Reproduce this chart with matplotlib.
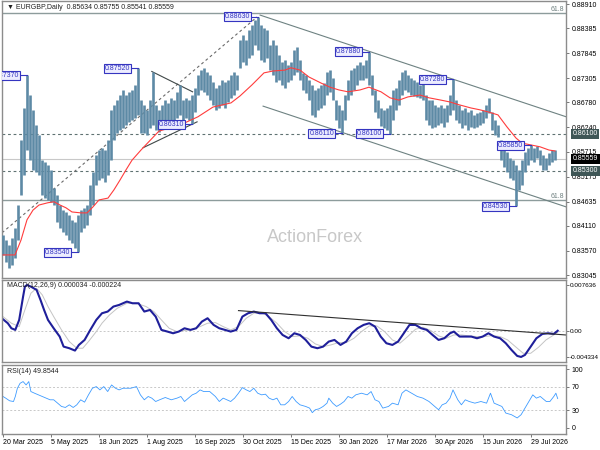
import matplotlib
matplotlib.use("Agg")
import numpy as np
import matplotlib.pyplot as plt
import matplotlib.transforms as mtrans

plt.rcParams['font.family'] = ['Liberation Sans', 'DejaVu Sans']

# --- price bars (each bar = 2 sessions) ---
bar_high = [
    0.8391, 0.8380, 0.8370, 0.8385, 0.8406, 0.8456, 0.8597, 0.8666, 0.8737, 0.8694,
    0.8662, 0.8629, 0.8608, 0.8553, 0.8549, 0.8543, 0.8532, 0.8493, 0.8478, 0.8456,
    0.8445, 0.8441, 0.8434, 0.8424, 0.8419, 0.8434, 0.8445, 0.8450, 0.8456, 0.8499,
    0.8527, 0.8564, 0.8575, 0.8580, 0.8575, 0.8597, 0.8662, 0.8673, 0.8683, 0.8694,
    0.8705, 0.8694, 0.8701, 0.8705, 0.8716, 0.8752, 0.8683, 0.8673, 0.8662, 0.8683,
    0.8744, 0.8673, 0.8662, 0.8673, 0.8683, 0.8677, 0.8688, 0.8683, 0.8701, 0.8716,
    0.8683, 0.8688, 0.8683, 0.8694, 0.8709, 0.8737, 0.8748, 0.8753, 0.8744, 0.8737,
    0.8722, 0.8709, 0.8716, 0.8727, 0.8722, 0.8727, 0.8737, 0.8744, 0.8737, 0.8813,
    0.8824, 0.8813, 0.8835, 0.8846, 0.8856, 0.8863, 0.8846, 0.8839, 0.8835, 0.8802,
    0.8813, 0.8802, 0.8781, 0.8766, 0.8770, 0.8759, 0.8766, 0.8792, 0.8798, 0.8770,
    0.8742, 0.8737, 0.8727, 0.8716, 0.8705, 0.8709, 0.8716, 0.8720, 0.8744, 0.8748,
    0.8731, 0.8683, 0.8673, 0.8662, 0.8694, 0.8727, 0.8748, 0.8753, 0.8759, 0.8766,
    0.8759, 0.8770, 0.8788, 0.8737, 0.8705, 0.8683, 0.8666, 0.8662, 0.8666, 0.8673,
    0.8705, 0.8709, 0.8727, 0.8744, 0.8748, 0.8737, 0.8731, 0.8727, 0.8722, 0.8716,
    0.8718, 0.8694, 0.8683, 0.8683, 0.8673, 0.8668, 0.8673, 0.8666, 0.8673, 0.8694,
    0.8728, 0.8683, 0.8673, 0.8662, 0.8666, 0.8657, 0.8662, 0.8651, 0.8655, 0.8657,
    0.8662, 0.8673, 0.8688, 0.8657, 0.8640, 0.8629, 0.8597, 0.8586, 0.8571, 0.8558,
    0.8553, 0.8543, 0.8532, 0.8553, 0.8571, 0.8580, 0.8585, 0.8580, 0.8584, 0.8575,
    0.8564, 0.8558, 0.8569, 0.8575, 0.8576]
bar_low = [
    0.8348, 0.8333, 0.8320, 0.8326, 0.8341, 0.8380, 0.8478, 0.8521, 0.8575, 0.8553,
    0.8532, 0.8527, 0.8521, 0.8478, 0.8471, 0.8467, 0.8463, 0.8456, 0.8419, 0.8406,
    0.8398, 0.8391, 0.8380, 0.8374, 0.8363, 0.8354, 0.8398, 0.8406, 0.8413, 0.8434,
    0.8456, 0.8499, 0.8510, 0.8515, 0.8506, 0.8521, 0.8553, 0.8597, 0.8612, 0.8618,
    0.8623, 0.8629, 0.8636, 0.8640, 0.8644, 0.8651, 0.8612, 0.8612, 0.8608, 0.8623,
    0.8629, 0.8618, 0.8614, 0.8623, 0.8629, 0.8629, 0.8636, 0.8640, 0.8644, 0.8651,
    0.8640, 0.8644, 0.8640, 0.8631, 0.8657, 0.8694, 0.8705, 0.8701, 0.8694, 0.8683,
    0.8673, 0.8662, 0.8666, 0.8673, 0.8666, 0.8679, 0.8688, 0.8694, 0.8705, 0.8753,
    0.8766, 0.8759, 0.8774, 0.8781, 0.8802, 0.8792, 0.8770, 0.8766, 0.8774, 0.8748,
    0.8737, 0.8722, 0.8727, 0.8716, 0.8709, 0.8722, 0.8727, 0.8737, 0.8744, 0.8727,
    0.8705, 0.8698, 0.8683, 0.8651, 0.8647, 0.8662, 0.8666, 0.8673, 0.8694, 0.8701,
    0.8683, 0.8640, 0.8623, 0.8611, 0.8640, 0.8683, 0.8694, 0.8705, 0.8716, 0.8727,
    0.8727, 0.8731, 0.8716, 0.8694, 0.8657, 0.8644, 0.8627, 0.8623, 0.8618, 0.8610,
    0.8640, 0.8662, 0.8673, 0.8694, 0.8705, 0.8701, 0.8694, 0.8692, 0.8690, 0.8688,
    0.8683, 0.8640, 0.8629, 0.8623, 0.8625, 0.8629, 0.8634, 0.8625, 0.8636, 0.8651,
    0.8662, 0.8640, 0.8634, 0.8623, 0.8629, 0.8618, 0.8625, 0.8623, 0.8625, 0.8629,
    0.8634, 0.8644, 0.8655, 0.8618, 0.8608, 0.8603, 0.8553, 0.8538, 0.8527, 0.8515,
    0.8510, 0.8453, 0.8489, 0.8499, 0.8527, 0.8543, 0.8553, 0.8549, 0.8558, 0.8543,
    0.8532, 0.8532, 0.8543, 0.8549, 0.8554]
last_close = 0.85559

# moving average (red), sampled along the chart
ma_idx = [0, 4, 6, 8, 10, 12, 15, 17, 19, 21, 23, 26, 28, 30, 32, 35, 37, 39, 41, 43,
          46, 47, 52, 59, 65, 70, 76, 79, 83, 87, 90, 94, 96, 99, 102, 106, 109, 112,
          115, 119, 122, 126, 129, 132, 135, 139, 142, 146, 149, 152, 156, 159, 162,
          165, 168, 171, 173, 176, 179, 182, 184]
ma_val = [0.8348, 0.8348, 0.8380, 0.8424, 0.8445, 0.8456, 0.8461, 0.8463, 0.8456, 0.8450,
          0.8441, 0.8439, 0.8439, 0.8452, 0.8467, 0.8471, 0.8489, 0.8510, 0.8532, 0.8553,
          0.8575, 0.8582, 0.8616, 0.8629, 0.8647, 0.8668, 0.8677, 0.8692, 0.8716, 0.8742,
          0.8746, 0.8748, 0.8753, 0.8748, 0.8733, 0.8720, 0.8711, 0.8705, 0.8701, 0.8705,
          0.8711, 0.8701, 0.8688, 0.8683, 0.8690, 0.8694, 0.8688, 0.8683, 0.8679, 0.8673,
          0.8666, 0.8662, 0.8657, 0.8651, 0.8625, 0.8601, 0.8590, 0.8586, 0.8582, 0.8575,
          0.8573]

# swing labels
swing_idx = [8, 25, 45, 63, 85, 113, 122, 129, 150, 171, 176]
swing_price = [0.8737, 0.8354, 0.8752, 0.8631, 0.8863, 0.8611, 0.8788, 0.8610, 0.8728, 0.8453, 0.8585]

# levels
support_res = [0.8610, 0.8530]
fib_levels = [0.8872, 0.8467]
price_ticks = [0.88910, 0.88385, 0.87845, 0.87305, 0.86780, 0.86240,
               0.85715, 0.85175, 0.84635, 0.84110, 0.83570, 0.83045]

# trendlines (bar index, price)
up_dash = ([-0.3, 84.7], [0.8396, 0.8863])
chan_top = ([85.7, 187.7], [0.8867, 0.8647])
chan_bot = ([86.7, 187.7], [0.8670, 0.8452])
tri_top = ([49.6, 63.2], [0.8745, 0.8701])
tri_bot = ([46.7, 64.7], [0.8580, 0.8636])

# MACD
macd_idx = [0, 1.6, 2.8, 4.1, 5.4, 6.7, 7.3, 8.0, 9.3, 11.2, 12.5, 13.7, 15.0, 16.9, 18.9,
            20.2, 22.1, 24.0, 25.3, 27.2, 29.1, 31.1, 33.0, 34.9, 36.8, 38.7, 41.3, 43.2,
            45.2, 47.1, 49.0, 50.9, 52.8, 54.8, 56.7, 58.6, 60.5, 62.5, 64.4, 66.3, 68.2,
            70.2, 72.1, 74.0, 75.9, 77.8, 79.8, 81.7, 83.6, 85.5, 87.5, 89.4, 91.3, 93.2,
            95.2, 97.1, 99.0, 100.9, 102.8, 104.8, 106.7, 108.6, 110.5, 112.5, 114.4,
            116.3, 118.2, 120.2, 122.1, 124.0, 125.9, 127.8, 129.8, 131.7, 133.6, 135.5,
            137.5, 139.4, 141.3, 143.2, 145.2, 147.1, 149.0, 150.3, 152.2, 154.1, 156.1,
            158.0, 159.9, 161.8, 163.7, 165.7, 167.6, 169.5, 171.4, 172.7, 174.0, 175.9,
            177.8, 179.8, 181.7, 183.6, 184.9]
macd_val = [0.00194, 0.00128, 0.00044, 0.00017, 0.00183, 0.00571, 0.00737, 0.00764, 0.00737,
            0.00682, 0.00516, 0.00349, 0.00183, 0.00044, -0.00094, -0.00261, -0.00288,
            -0.00327, -0.00233, -0.00150, 0.00017, 0.00183, 0.00294, 0.00322, 0.00405,
            0.00432, 0.00488, 0.00460, 0.00460, 0.00322, 0.00349, 0.00238, 0.00017,
            -0.00011, -0.00039, -0.00011, 0.00044, 0.00017, 0.00044, 0.00155, 0.00211,
            0.00100, 0.00044, 0.00017, -0.00011, 0.00017, 0.00238, 0.00294, 0.00322,
            0.00294, 0.00294, 0.00183, 0.00044, -0.00067, -0.00122, -0.00039, -0.00067,
            -0.00150, -0.00261, -0.00288, -0.00261, -0.00177, -0.00150, -0.00233, -0.00177,
            -0.00039, 0.00044, 0.00100, 0.00128, 0.00072, -0.00094, -0.00205, -0.00233,
            -0.00177, -0.00039, 0.00100, 0.00100, 0.00044, 0.00017, -0.00067, -0.00150,
            -0.00122, -0.00039, -0.00011, -0.00094, -0.00094, -0.00094, -0.00122, -0.00094,
            -0.00039, -0.00094, -0.00122, -0.00205, -0.00316, -0.00416, -0.00433, -0.00399,
            -0.00261, -0.00122, -0.00050, -0.00039, -0.00050, 0.00003]
sig_idx = [0, 2.8, 5.4, 7.3, 9.3, 11.2, 13.1, 15.0, 16.9, 19.5, 22.1, 24.6, 26.6, 28.5,
           31.1, 33.0, 35.5, 38.1, 41.3, 44.5, 47.7, 50.3, 52.8, 55.4, 58.0, 60.5, 63.1,
           65.7, 68.2, 70.8, 73.4, 75.9, 78.5, 81.1, 83.6, 86.2, 88.7, 91.3, 93.9, 96.4,
           99.0, 101.6, 104.1, 106.7, 109.3, 111.8, 114.4, 117.0, 119.5, 122.1, 124.6,
           127.2, 129.8, 132.3, 134.9, 137.5, 140.0, 142.6, 145.2, 147.7, 150.3, 152.8,
           155.4, 158.0, 160.5, 163.1, 165.7, 168.2, 170.8, 173.4, 175.9, 178.5, 181.0,
           183.6, 184.9]
sig_val = [0.00238, 0.00128, 0.00072, 0.00349, 0.00627, 0.00710, 0.00599, 0.00405, 0.00238,
           0.00017, -0.00177, -0.00288, -0.00288, -0.00177, -0.00011, 0.00128, 0.00266,
           0.00377, 0.00460, 0.00460, 0.00405, 0.00322, 0.00183, 0.00044, -0.00011,
           0.00006, 0.00028, 0.00072, 0.00128, 0.00139, 0.00072, 0.00017, 0.00072,
           0.00211, 0.00294, 0.00305, 0.00238, 0.00128, -0.00011, -0.00094, -0.00083,
           -0.00122, -0.00216, -0.00261, -0.00233, -0.00194, -0.00194, -0.00122, -0.00011,
           0.00083, 0.00083, -0.00011, -0.00150, -0.00205, -0.00094, 0.00028, 0.00061,
           0.00006, -0.00083, -0.00122, -0.00067, -0.00067, -0.00083, -0.00094, -0.00094,
           -0.00078, -0.00094, -0.00150, -0.00261, -0.00372, -0.00372, -0.00272, -0.00150,
           -0.00067, -0.00022]
macd_trend = ([78.5, 187.5], [0.00338, -0.00067])
macd_ticks = [0.007636, 0.0, -0.004334]
macd_tick_labels = ['0.007636', '0.00', '-0.004334']

# RSI(14)
rsi_idx = [0, 0.9, 2.2, 3.5, 4.1, 4.8, 5.7, 6.7, 7.7, 8.6, 9.3, 10.5, 11.8, 13.1, 14.4,
           15.7, 16.9, 18.2, 19.5, 20.8, 22.1, 23.4, 24.6, 25.9, 27.2, 28.5, 29.8, 31.1,
           32.3, 33.6, 34.9, 36.2, 37.5, 38.7, 40.0, 42.6, 44.5, 45.8, 47.1, 48.4, 49.6,
           50.9, 52.2, 54.1, 56.1, 58.0, 59.3, 60.5, 61.8, 63.1, 64.4, 65.7, 66.9, 68.9,
           70.8, 72.1, 73.4, 74.6, 75.9, 77.2, 78.5, 79.8, 81.1, 82.3, 83.6, 84.9, 86.2,
           87.5, 88.7, 90.0, 91.3, 92.6, 93.9, 95.2, 96.4, 97.7, 99.0, 100.9, 102.2, 103.1,
           104.1, 105.4, 106.7, 108.0, 108.6, 109.9, 111.2, 112.5, 113.7, 115.0, 116.3,
           117.6, 119.5, 121.4, 122.7, 124.0, 125.3, 126.6, 128.5, 129.8, 131.7, 133.0,
           134.3, 136.2, 138.1, 140.0, 142.0, 143.9, 145.2, 146.4, 147.7, 149.0, 150.0,
           151.6, 152.8, 154.1, 155.4, 157.3, 159.3, 161.2, 162.5, 163.7, 165.0, 166.3,
           167.6, 169.5, 171.4, 172.7, 174.0, 175.3, 176.6, 177.8, 179.1, 181.1, 182.3,
           183.6, 184.3, 184.9]
rsi_val = [53.4, 50.6, 46.1, 44.9, 53.4, 67.4, 75.8, 78.7, 73.0, 78.7, 61.8, 59.0, 56.2,
           53.4, 50.6, 47.8, 47.8, 42.1, 36.5, 34.8, 39.3, 34.8, 39.3, 47.8, 43.8, 56.2,
           67.4, 70.2, 64.6, 70.2, 61.8, 73.0, 67.4, 64.6, 67.4, 67.4, 70.2, 56.2, 47.8,
           53.4, 50.6, 44.9, 47.8, 51.7, 47.8, 50.6, 53.4, 44.9, 50.6, 56.2, 59.0, 64.6,
           61.8, 61.8, 53.4, 44.9, 50.6, 47.8, 44.9, 50.6, 59.0, 68.5, 64.6, 61.8, 67.4,
           59.0, 56.2, 57.3, 50.6, 47.8, 50.6, 39.3, 39.3, 44.9, 53.4, 44.9, 39.3, 36.5,
           33.7, 26.0, 30.9, 32.6, 36.5, 42.1, 50.6, 42.1, 36.5, 40.4, 44.9, 53.4, 50.6,
           56.2, 59.0, 56.2, 61.8, 47.8, 44.9, 33.7, 36.5, 42.1, 39.3, 59.0, 64.6, 59.0,
           53.4, 50.6, 44.9, 36.5, 30.9, 39.3, 42.1, 50.6, 64.6, 47.8, 39.3, 47.8, 44.9,
           42.1, 44.9, 42.1, 59.0, 42.1, 39.3, 36.5, 25.3, 22.5, 17.0, 22.5, 33.7, 44.9,
           56.2, 50.6, 53.4, 44.9, 44.9, 53.4, 59.0, 49.85]
rsi_levels = [70, 30]
rsi_ticks = [100, 70, 30, 0]

# dates
date_idx = [0, 16, 32, 48, 64, 80, 96, 112, 128, 144, 160, 176]
date_labels = ['20 Mar 2025', '5 May 2025', '18 Jun 2025', '1 Aug 2025', '16 Sep 2025',
               '30 Oct 2025', '15 Dec 2025', '30 Jan 2026', '17 Mar 2026', '30 Apr 2026',
               '15 Jun 2026', '29 Jul 2026']

# --- layout (pixel rows of each pane) ---
W, H = 600, 450
def pane(top, bottom):
    return [2 / W, 1 - bottom / H, 564 / W, (bottom - top) / H]

fig = plt.figure(figsize=(6, 4.5), dpi=100)
ax = fig.add_axes(pane(1, 278))
ax_m = fig.add_axes(pane(280, 362), sharex=ax)
ax_r = fig.add_axes(pane(365, 434), sharex=ax)

FS = 5
border = '#8c8c8c'
for a in (ax, ax_m, ax_r):
    for s in a.spines.values():
        s.set_color(border)
        s.set_linewidth(1.0)
    a.yaxis.tick_right()
    a.tick_params(axis='y', length=2, width=0.6, color='#606060', labelsize=FS, pad=2)
    a.tick_params(axis='x', bottom=False, labelbottom=False)
ax.set_xlim(-0.33, 187.67)

# --- main price pane ---
ax.set_ylim(0.82981, 0.88975)
ax.set_yticks(price_ticks)
ax.set_yticklabels([f'{p:.5f}' for p in price_ticks])

for lv in support_res:
    ax.axhline(lv, color='#5f7272', lw=0.8, ls=(0, (2.5, 2.5)), zorder=1)
ax.axhline(last_close, color='#c8c8c8', lw=0.8, zorder=1)
for lv in fib_levels:
    ax.axhline(lv, color='#8d9c9c', lw=1.0, zorder=1)
    ax.text(187.2, lv, '61.8', ha='right', va='bottom', fontsize=FS, color='#6f8080')

ax.text(0.555, 0.148, 'ActionForex', transform=ax.transAxes, ha='center', va='center',
        fontsize=13, color='#c8c8c8', zorder=0)

ax.plot(*up_dash, color='#6a6a6a', lw=0.8, ls=(0, (2.5, 2.5)), zorder=2)
ax.plot(*chan_top, color='#6e8282', lw=0.8, zorder=2)
ax.plot(*chan_bot, color='#6e8282', lw=0.8, zorder=2)
ax.plot(*tri_top, color='#404848', lw=0.8, zorder=2)
ax.plot(*tri_bot, color='#404848', lw=0.8, zorder=2)

xs = np.arange(len(bar_high))
ax.vlines(xs, bar_low, bar_high, color='#5d8aa5', lw=1.9, zorder=3)
ax.plot(ma_idx, ma_val, color='#ff3c3c', lw=0.8, zorder=4)

lab_col = '#3535c0'
for i, p in zip(swing_idx, swing_price):
    ax.plot([i - 2.3, i], [p, p], color=lab_col, lw=0.8, zorder=5)
    ax.text(i - 2.6, p, f'{p:.5f}', ha='right', va='center', fontsize=FS, color=lab_col,
            bbox=dict(boxstyle='square,pad=0.15', fc='#ececff', ec=lab_col, lw=0.8),
            zorder=6, clip_on=True)

ax.text(0.008, 0.988, '\u25bc EURGBP,Daily  0.85634 0.85755 0.85541 0.85559',
        transform=ax.transAxes, ha='left', va='top', fontsize=FS, color='#202020')

rt = mtrans.blended_transform_factory(ax.transAxes, ax.transData)
for lv, txt, bg in [(0.8610, '0.86100', '#3f5656'), (0.8530, '0.85300', '#3f5656'),
                    (last_close, '0.85559', '#000000')]:
    ax.text(1.012, lv, txt, transform=rt, ha='left', va='center', fontsize=FS,
            color='white', clip_on=False,
            bbox=dict(boxstyle='square,pad=0.2', fc=bg, ec='none'))

# --- MACD pane ---
ax_m.set_ylim(-0.00517, 0.00847)
ax_m.set_yticks(macd_ticks)
ax_m.set_yticklabels(macd_tick_labels)
ax_m.tick_params(axis='y', labelsize=4.6, pad=1)
ax_m.axhline(0, color='#c8c8c8', lw=0.7, ls=(0, (2, 2)))
ax_m.plot(sig_idx, sig_val, color='#c4c4c4', lw=0.7)
ax_m.plot(macd_idx, macd_val, color='#1f1f9a', lw=1.5)
ax_m.plot(*macd_trend, color='#303030', lw=0.8)
ax_m.text(0.008, 0.97, 'MACD(12,26,9) 0.000034 -0.000224', transform=ax_m.transAxes,
          ha='left', va='top', fontsize=FS, color='#202020')

# --- RSI pane ---
ax_r.set_ylim(-10.2, 106.8)
ax_r.set_yticks(rsi_ticks)
for lv in rsi_levels:
    ax_r.axhline(lv, color='#c8c8c8', lw=0.7, ls=(0, (2, 2)))
ax_r.plot(rsi_idx, rsi_val, color='#3d9bff', lw=0.6)
ax_r.text(0.008, 0.96, 'RSI(14) 49.8544', transform=ax_r.transAxes,
          ha='left', va='top', fontsize=FS, color='#202020')
ax_r.tick_params(axis='x', bottom=True, labelbottom=True, length=2, width=0.6,
                 color='#606060', labelsize=FS, pad=1.5)
ax_r.set_xticks(date_idx)
ax_r.set_xticklabels(date_labels, ha='left')

fig.savefig('out.png', dpi=100, facecolor='white')
